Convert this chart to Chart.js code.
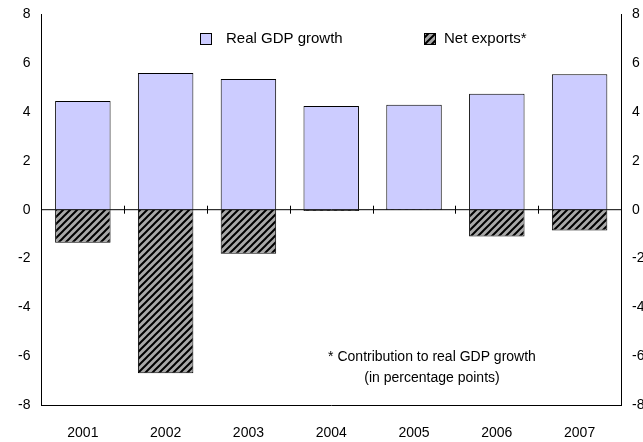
<!DOCTYPE html><html><head><script src="https://cdn.jsdelivr.net/npm/chart.js@4"></script>
<style>body{margin:0;background:#fff}#w{width:643px;height:442px}</style></head><body><div id="w"><canvas id="c"></canvas></div>
<script>
const categories=['2001','2002','2003','2004','2005','2006','2007'];
const gdpGrowth=[4.45,5.6,5.35,4.25,4.3,4.75,5.55];
const netExports=[-1.35,-6.7,-1.8,-0.05,0.05,-1.1,-0.85];
const tickVals=[-8,-6,-4,-2,0,2,4,6,8];
function hatch(){const p=document.createElement('canvas');p.width=7;p.height=7;const g=p.getContext('2d');g.fillStyle='#a8a8a8';g.fillRect(0,0,7,7);g.strokeStyle='#000';g.lineWidth=2;g.beginPath();g.moveTo(0,7);g.lineTo(7,0);g.moveTo(-3.5,3.5);g.lineTo(3.5,-3.5);g.moveTo(3.5,10.5);g.lineTo(10.5,3.5);g.stroke();return g.createPattern(p,'repeat');}
const pat=hatch();
const F='"Liberation Sans", Arial, sans-serif';
const extras={id:'extras',afterDatasetsDraw(ch){const c=ch.ctx,x=ch.scales.x,y=ch.scales.y,a=ch.chartArea;const y0=y.getPixelForValue(0);
c.save();c.strokeStyle='#000';c.lineWidth=1;c.beginPath();c.moveTo(a.left,y0);c.lineTo(a.right,y0);
const n=categories.length,w=(a.right-a.left)/n;for(let i=1;i<n;i++){const px=Math.round(a.left+i*w)+0.5;c.moveTo(px,y0-4);c.lineTo(px,y0+4);}c.stroke();
c.font='15px '+F;c.fillStyle='#000';c.textBaseline='middle';
c.fillStyle='#ccccff';c.fillRect(200,33,11,11);c.strokeStyle='#000';c.strokeRect(200.5,33.5,11,11);
c.fillStyle='#000';c.fillText('Real GDP growth',226,39);
c.fillStyle=pat;c.fillRect(424,33,11,11);c.strokeRect(424.5,33.5,11,11);c.fillStyle='#000';c.fillText('Net exports*',444,39);
c.font='14px '+F;c.textAlign='center';c.fillText('* Contribution to real GDP growth',432,357);c.fillText('(in percentage points)',432,378);c.restore();}};
new Chart(document.getElementById('c'),{type:'bar',data:{labels:categories,datasets:[
{label:'Real GDP growth',data:gdpGrowth,backgroundColor:'#ccccff',borderColor:'#000',borderWidth:1,grouped:false,barPercentage:0.67,categoryPercentage:1},
{label:'Net exports*',data:netExports,backgroundColor:pat,borderColor:'#000',borderWidth:1,grouped:false,barPercentage:0.67,categoryPercentage:1}]},
plugins:[extras],
options:{responsive:true,maintainAspectRatio:false,animation:false,layout:{padding:{top:8,right:0,left:12,bottom:0}},
plugins:{legend:{display:false},tooltip:{enabled:false}},
scales:{x:{grid:{display:false,drawTicks:false},border:{color:'#000'},ticks:{color:'#000',font:{size:14,family:F},padding:20},afterFit:s=>{s.height=37}},
y:{min:-8,max:8,afterBuildTicks:s=>{s.ticks=tickVals.map(v=>({value:v}))},grid:{display:false,drawTicks:true,tickLength:5,tickColor:'#000',drawOnChartArea:false},border:{color:'#000'},ticks:{color:'#000',font:{size:14,family:F},padding:6}},
y2:{position:'right',min:-8,max:8,afterBuildTicks:s=>{s.ticks=tickVals.map(v=>({value:v}))},grid:{display:false,drawTicks:true,tickLength:5,tickColor:'#000',drawOnChartArea:false},border:{color:'#000'},ticks:{color:'#000',font:{size:14,family:F},padding:6,mirror:false},afterFit:s=>{s.width=22}}}}});
</script></body></html>
